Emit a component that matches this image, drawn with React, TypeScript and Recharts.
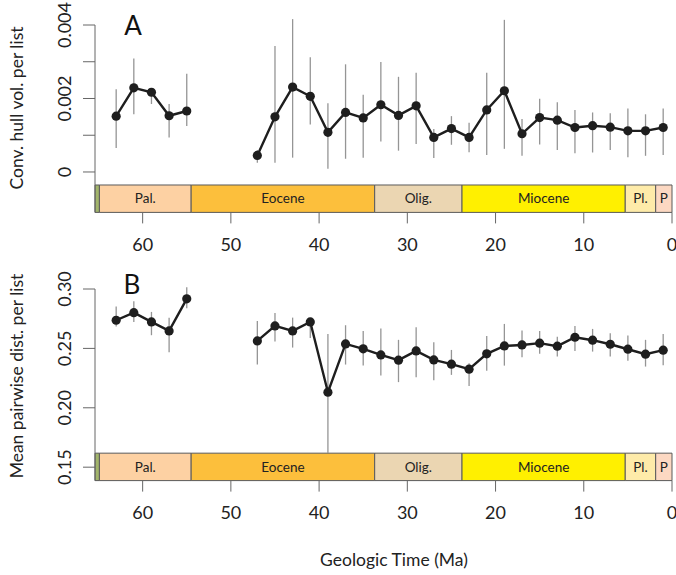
import React from 'react';
import { ComposedChart, Line, XAxis, YAxis, ErrorBar, ReferenceArea } from 'recharts';

// Ages (Ma) of bin midpoints
const agesEarly = [63, 61, 59, 57, 55];
const agesLate = [47, 45, 43, 41, 39, 37, 35, 33, 31, 29, 27, 25, 23, 21, 19, 17, 15, 13, 11, 9, 7, 5, 3, 1];

// Panel A: convex hull volume per list
const hullVal = [0.00152, 0.00229, 0.00217, 0.00153, 0.00166,
  0.00045, 0.00150, 0.00231, 0.00206, 0.00108, 0.00162, 0.00147, 0.00183, 0.00154, 0.00180, 0.00094, 0.00118,
  0.00094, 0.00169, 0.00221, 0.00104, 0.00148, 0.00141, 0.00121, 0.00126, 0.00122, 0.00112, 0.00112, 0.00121];
const hullLo = [0.00065, 0.00157, 0.00185, 0.00094, 0.00125,
  0.00025, 0.00025, 0.00039, 0.00129, 0.00009, 0.00036, 0.00039, 0.00083, 0.00058, 0.00076, 0.00038, 0.00074,
  0.00054, 0.00046, 0.00063, 0.00044, 0.00075, 0.00060, 0.00051, 0.00053, 0.00060, 0.00040, 0.00044, 0.00046];
const hullHi = [0.00225, 0.00309, 0.00223, 0.00185, 0.00267,
  0.00060, 0.00343, 0.00416, 0.00312, 0.00187, 0.00293, 0.00210, 0.00299, 0.00259, 0.00270, 0.00117, 0.00152,
  0.00134, 0.00270, 0.00414, 0.00144, 0.00199, 0.00190, 0.00169, 0.00162, 0.00160, 0.00173, 0.00157, 0.00173];

// Panel B: mean pairwise distance per list
const mpdVal = [0.2737, 0.2801, 0.2723, 0.2647, 0.2917,
  0.2563, 0.2689, 0.2647, 0.2723, 0.2131, 0.2538, 0.2496, 0.2445, 0.2401, 0.2479, 0.2403, 0.2367,
  0.2325, 0.2454, 0.2521, 0.2529, 0.2544, 0.2519, 0.2594, 0.2569, 0.2535, 0.2493, 0.2451, 0.2485];
const mpdLo = [0.2684, 0.2723, 0.2611, 0.2468, 0.2838,
  0.2364, 0.2557, 0.2507, 0.2588, 0.1620, 0.2364, 0.2355, 0.2271, 0.2216, 0.2258, 0.2232, 0.2277,
  0.2184, 0.2311, 0.2355, 0.2426, 0.2454, 0.2431, 0.2479, 0.2473, 0.2431, 0.2395, 0.2347, 0.2359];
const mpdHi = [0.2852, 0.2897, 0.2807, 0.2757, 0.3015,
  0.2731, 0.2799, 0.2759, 0.2740, 0.2622, 0.2695, 0.2647, 0.2667, 0.2572, 0.2678, 0.2552, 0.2487,
  0.2375, 0.2605, 0.2706, 0.2650, 0.2647, 0.2599, 0.2689, 0.2664, 0.2628, 0.2608, 0.2572, 0.2622];

// Epoch bar
const epochNames = ['', 'Pal.', 'Eocene', 'Olig.', 'Miocene', 'Pl.', 'P'];
const epochOld = [65.4, 64.9, 54.5, 33.7, 23.8, 5.3, 1.85];
const epochYoung = [64.9, 54.5, 33.7, 23.8, 5.3, 1.85, 0];
const epochColors = ['#a2b56b', '#fdd1a3', '#fcbf3c', '#ebd6b2', '#fff000', '#feeba9', '#fcd8c2'];

const xTicks = [0, 10, 20, 30, 40, 50, 60];
const hullTicks = [0, 0.001, 0.002, 0.003, 0.004];
const hullLabeled = [0, 0.002, 0.004];
const mpdTicks = [0.15, 0.2, 0.25, 0.3];
const mpdLabeled = [0.15, 0.2, 0.25, 0.3];

const X_DOMAIN: [number, number] = [0, 65.4];
const HULL_DOMAIN: [number, number] = [-0.0011, 0.004];
const HULL_BAR_TOP = -0.000354;
const MPD_DOMAIN: [number, number] = [0.1387, 0.3];
const MPD_BAR_TOP = 0.1618;

const FONT = 'Lato, "Open Sans", sans-serif';
const INK = '#1e1e1e';

function rows(vals: number[], lo: number[], hi: number[], ages: number[], offset: number) {
  return ages.map((age, i) => {
    const v = vals[i + offset];
    return { age, v, err: [v - lo[i + offset], hi[i + offset] - v] };
  });
}

const hullEarly = rows(hullVal, hullLo, hullHi, agesEarly, 0);
const hullLate = rows(hullVal, hullLo, hullHi, agesLate, agesEarly.length);
const mpdEarly = rows(mpdVal, mpdLo, mpdHi, agesEarly, 0);
const mpdLate = rows(mpdVal, mpdLo, mpdHi, agesLate, agesEarly.length);

function makeYTick(labeled: number[], digits: number) {
  return (props: any) => {
    const { x, y, payload } = props;
    const v = payload.value;
    const show = labeled.some((l) => Math.abs(l - v) < 1e-9);
    if (!show) return <g />;
    const txt = v === 0 ? '0' : v.toFixed(digits);
    const tx = x - 12;
    return (
      <text x={tx} y={y} transform={`rotate(-90 ${tx} ${y})`} textAnchor="middle"
        fontSize={18} fill="#222" fontFamily={FONT}>{txt}</text>
    );
  };
}

function epochAreas(y1: number, y2: number) {
  return epochNames.map((name, i) => (
    <ReferenceArea key={i} x1={epochOld[i]} x2={epochYoung[i]} y1={y1} y2={y2}
      fill={epochColors[i]} fillOpacity={1} stroke="#5a5a5a" strokeWidth={1}
      label={name ? { value: name, position: 'center', fontSize: 13.5, fill: '#222', fontFamily: FONT } : undefined} />
  ));
}

function seriesLines(data: any[], key: string) {
  return [
    <Line key={key + 'e'} data={data} dataKey="v" stroke="none" dot={false} activeDot={false}
      isAnimationActive={false} legendType="none">
      <ErrorBar dataKey="err" width={0} stroke="#959595" strokeWidth={1.3} isAnimationActive={false} />
    </Line>,
    <Line key={key + 'l'} data={data} dataKey="v" type="linear" stroke={INK} strokeWidth={2.4}
      dot={{ r: 4.6, fill: INK, stroke: INK, strokeWidth: 0 }} activeDot={false} isAnimationActive={false} />,
  ];
}

function xAxis(height: number) {
  return (
    <XAxis dataKey="age" type="number" domain={X_DOMAIN} reversed allowDataOverflow ticks={xTicks}
      tickSize={11} tickMargin={15} axisLine={false} tickLine={{ stroke: '#666' }} height={height}
      tick={{ fontSize: 18, fill: '#222', fontFamily: FONT }} interval={0} />
  );
}

export default function App() {
  return (
    <div style={{ position: 'absolute', left: 0, top: 0, width: 676, height: 575, background: '#fff', fontFamily: FONT }}>
      <div style={{ position: 'absolute', left: 0, top: 0 }}>
        <ComposedChart width={676} height={260} margin={{ top: 25, right: 4, left: 0, bottom: 0 }}>
          {xAxis(47.6)}
          <YAxis type="number" domain={HULL_DOMAIN} allowDataOverflow ticks={hullTicks} width={95}
            tickSize={12} tickMargin={0} axisLine={{ stroke: '#666' }} tickLine={{ stroke: '#666' }}
            tick={makeYTick(hullLabeled, 3)} interval={0} />
          {epochAreas(HULL_DOMAIN[0], HULL_BAR_TOP)}
          {seriesLines(hullEarly, 'ae')}
          {seriesLines(hullLate, 'al')}
        </ComposedChart>
      </div>
      <div style={{ position: 'absolute', left: 0, top: 260 }}>
        <ComposedChart width={676} height={315} margin={{ top: 29, right: 4, left: 0, bottom: 0 }}>
          {xAxis(94.4)}
          <YAxis type="number" domain={MPD_DOMAIN} allowDataOverflow ticks={mpdTicks} width={95}
            tickSize={12} tickMargin={0} axisLine={{ stroke: '#666' }} tickLine={{ stroke: '#666' }}
            tick={makeYTick(mpdLabeled, 2)} interval={0} />
          {epochAreas(MPD_DOMAIN[0], MPD_BAR_TOP)}
          {seriesLines(mpdEarly, 'be')}
          {seriesLines(mpdLate, 'bl')}
        </ComposedChart>
      </div>
      <svg width={676} height={575} style={{ position: 'absolute', left: 0, top: 0, pointerEvents: 'none' }}>
        <text x={133} y={35} textAnchor="middle" fontSize={26} fill="#111" fontFamily={FONT}>A</text>
        <text x={132} y={294} textAnchor="middle" fontSize={26} fill="#111" fontFamily={FONT}>B</text>
        <text x={23} y={108} transform="rotate(-90 23 108)" textAnchor="middle" fontSize={17.5} fill="#222" fontFamily={FONT}>Conv. hull vol. per list</text>
        <text x={23} y={376} transform="rotate(-90 23 376)" textAnchor="middle" fontSize={17.5} fill="#222" fontFamily={FONT}>Mean pairwise dist. per list</text>
        <text x={394} y={566} textAnchor="middle" fontSize={17.5} fill="#222" fontFamily={FONT}>Geologic Time (Ma)</text>
      </svg>
    </div>
  );
}
